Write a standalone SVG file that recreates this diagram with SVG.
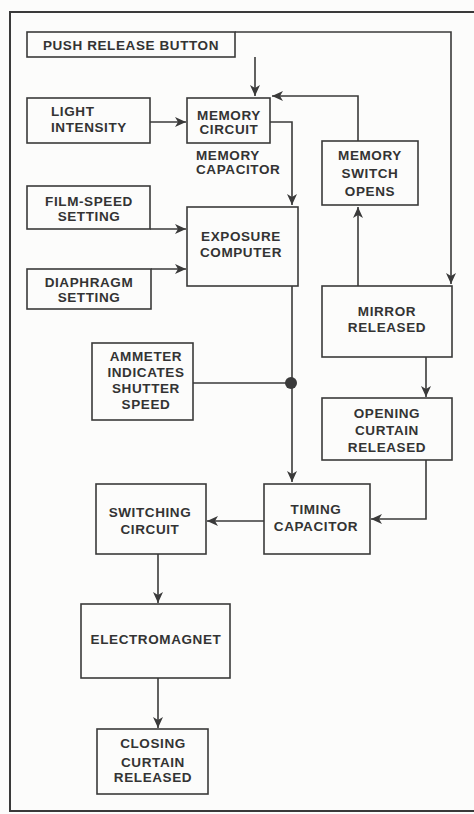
<svg xmlns="http://www.w3.org/2000/svg" width="474" height="814" viewBox="0 0 474 814">
<style>
.box{fill:none;stroke:#3a3a3a;stroke-width:1.6}
.ln{fill:none;stroke:#3a3a3a;stroke-width:1.6}
.frame{fill:none;stroke:#3a3a3a;stroke-width:2}
text{font-family:"Liberation Sans",Arial,sans-serif;font-weight:bold;font-size:13.5px;letter-spacing:0.6px;fill:#333;text-anchor:middle}
.l{text-anchor:start}
</style>
<defs>
<marker id="ah" markerUnits="userSpaceOnUse" markerWidth="12" markerHeight="10" refX="11" refY="5" orient="auto">
<path d="M0,0 L11,5 L0,10 L3,5 Z" fill="#3a3a3a"/>
</marker>
</defs>
<rect width="474" height="814" fill="#fcfcfb"/>
<path class="frame" d="M474,12 H10 V811 H474"/>
<g id="push"><rect class="box" x="27" y="32" width="208" height="25"/><text x="131" y="50">PUSH RELEASE BUTTON</text></g>
<g id="light"><rect class="box" x="27" y="98" width="123" height="45"/><text class="l" x="51" y="116">LIGHT</text><text class="l" x="51" y="132">INTENSITY</text></g>
<g id="memcircuit"><rect class="box" x="187" y="98" width="83" height="45"/><text x="229" y="120">MEMORY</text><text x="229" y="134">CIRCUIT</text></g>
<g id="memcap"><text class="l" x="196" y="160">MEMORY</text><text class="l" x="196" y="174">CAPACITOR</text></g>
<g id="memswitch"><rect class="box" x="322" y="141" width="96" height="64"/><text x="370" y="160">MEMORY</text><text x="370" y="178">SWITCH</text><text x="370" y="196">OPENS</text></g>
<g id="film"><rect class="box" x="27" y="186" width="123" height="43"/><text x="89" y="206">FILM-SPEED</text><text x="89" y="221">SETTING</text></g>
<g id="exposure"><rect class="box" x="187" y="207" width="111" height="79"/><text x="241" y="241">EXPOSURE</text><text x="241" y="257">COMPUTER</text></g>
<g id="diaphragm"><rect class="box" x="27" y="269" width="124" height="40"/><text x="89" y="287">DIAPHRAGM</text><text x="89" y="302">SETTING</text></g>
<g id="mirror"><rect class="box" x="322" y="286" width="130" height="71"/><text x="387" y="316">MIRROR</text><text x="387" y="332">RELEASED</text></g>
<g id="ammeter"><rect class="box" x="92" y="343" width="101" height="77"/><text x="146" y="361">AMMETER</text><text x="146" y="377">INDICATES</text><text x="146" y="393">SHUTTER</text><text x="146" y="409">SPEED</text></g>
<g id="opening"><rect class="box" x="322" y="398" width="130" height="62"/><text x="387" y="418">OPENING</text><text x="387" y="435">CURTAIN</text><text x="387" y="452">RELEASED</text></g>
<g id="timing"><rect class="box" x="264" y="484" width="106" height="70"/><text x="316" y="514">TIMING</text><text x="316" y="531">CAPACITOR</text></g>
<g id="switching"><rect class="box" x="96" y="484" width="110" height="70"/><text x="150" y="517">SWITCHING</text><text x="150" y="534">CIRCUIT</text></g>
<g id="electromagnet"><rect class="box" x="81" y="604" width="149" height="74"/><text x="156" y="644">ELECTROMAGNET</text></g>
<g id="closing"><rect class="box" x="97" y="729" width="111" height="65"/><text x="153" y="748">CLOSING</text><text x="153" y="767">CURTAIN</text><text x="153" y="782">RELEASED</text></g>
<g id="connectors">
<path class="ln" d="M255,57 V96" marker-end="url(#ah)"/>
<path class="ln" d="M235,32 H451 V284" marker-end="url(#ah)"/>
<path class="ln" d="M150,122 H186" marker-end="url(#ah)"/>
<path class="ln" d="M358,141 V96 H272" marker-end="url(#ah)"/>
<path class="ln" d="M270,122 H292 V205" marker-end="url(#ah)"/>
<path class="ln" d="M358,286 V207" marker-end="url(#ah)"/>
<path class="ln" d="M150,229 H186" marker-end="url(#ah)"/>
<path class="ln" d="M151,269 H186" marker-end="url(#ah)"/>
<path class="ln" d="M292,286 V482" marker-end="url(#ah)"/>
<path class="ln" d="M193,383 H291"/>
<circle cx="291" cy="383" r="6" fill="#3a3a3a"/>
<path class="ln" d="M426,357 V397" marker-end="url(#ah)"/>
<path class="ln" d="M426,460 V519 H371" marker-end="url(#ah)"/>
<path class="ln" d="M264,521 H207" marker-end="url(#ah)"/>
<path class="ln" d="M158,554 V603" marker-end="url(#ah)"/>
<path class="ln" d="M158,678 V728" marker-end="url(#ah)"/>
</g>
</svg>
